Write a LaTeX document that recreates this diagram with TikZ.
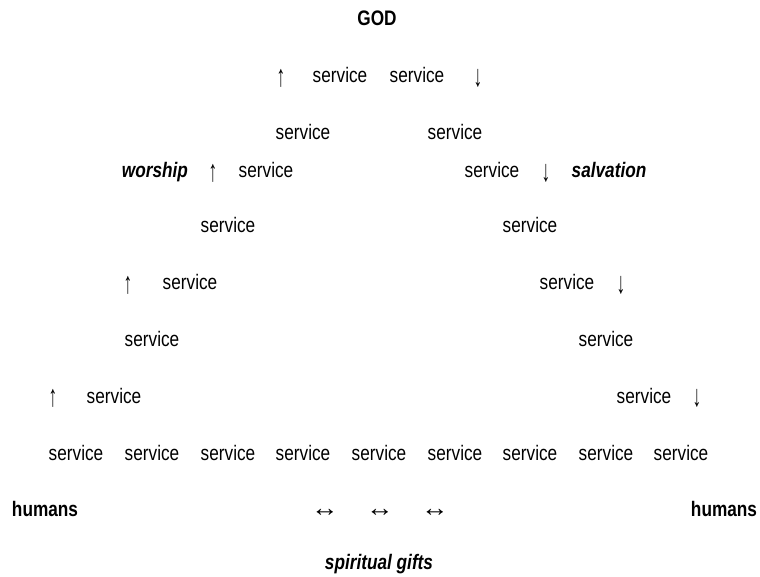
\documentclass[tikz,border=0pt]{standalone}
\usepackage{fontspec}
\usepackage{graphicx}
\setmainfont{Liberation Sans}[FakeStretch=0.82]
\newcommand{\upar}{\raisebox{-3.5pt}{\scalebox{1}[1.45]{↑}}}
\newcommand{\dnar}{\raisebox{-3.5pt}{\scalebox{1}[1.45]{↓}}}
\newcommand{\lrar}{\scalebox{1.6}[1.2]{↔}}
\begin{document}
\begin{tikzpicture}[x=1pt,y=-1pt,
  lbl/.style={anchor=base,inner sep=0pt,font=\fontsize{21}{24}\selectfont},
  bld/.style={lbl,font=\fontsize{21}{24}\selectfont\bfseries},
  bit/.style={lbl,font=\fontsize{21}{24}\selectfont\bfseries\itshape}]
\useasboundingbox (0,0) rectangle (760,577);
\node[bld] (god) at (377,26) {GOD};
% row 2
\node[lbl] (a2l) at (281,83) {\upar};
\node[lbl] (s2l) at (340,83) {service};
\node[lbl] (s2r) at (417,83) {service};
\node[lbl] (a2r) at (478,83) {\dnar};
% row 3
\node[lbl] (s3l) at (303,140) {service};
\node[lbl] (s3r) at (455,140) {service};
% row 4
\node[bit] (worship) at (155,178) {worship};
\node[lbl] (a4l) at (213,178) {\upar};
\node[lbl] (s4l) at (266,178) {service};
\node[lbl] (s4r) at (492,178) {service};
\node[lbl] (a4r) at (546,178) {\dnar};
\node[bit] (salv) at (609,178) {salvation};
% row 5
\node[lbl] (s5l) at (228,233) {service};
\node[lbl] (s5r) at (530,233) {service};
% row 6
\node[lbl] (a6l) at (128,290) {\upar};
\node[lbl] (s6l) at (190,290) {service};
\node[lbl] (s6r) at (567,290) {service};
\node[lbl] (a6r) at (621,290) {\dnar};
% row 7
\node[lbl] (s7l) at (152,346) {service};
\node[lbl] (s7r) at (606,346) {service};
% row 8
\node[lbl] (a8l) at (53,403) {\upar};
\node[lbl] (s8l) at (114,403) {service};
\node[lbl] (s8r) at (644,403) {service};
\node[lbl] (a8r) at (697,403) {\dnar};
% row 9
\foreach \i/\x in {1/76,2/152,3/228,4/303,5/379,6/455,7/530,8/606,9/681}
  \node[lbl] (b\i) at (\x,460) {service};
% row 10
\node[bld] (humL) at (45,516) {humans};
\node[lbl] (d1) at (325,516) {\lrar};
\node[lbl] (d2) at (380,516) {\lrar};
\node[lbl] (d3) at (435,516) {\lrar};
\node[bld] (humR) at (724,516) {humans};
% row 11
\node[bit] (gifts) at (379,569) {spiritual gifts};
\end{tikzpicture}
\end{document}
